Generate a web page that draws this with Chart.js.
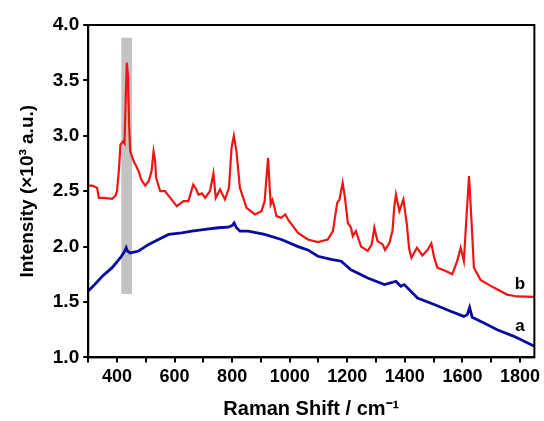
<!DOCTYPE html>
<html>
<head>
<meta charset="UTF-8" />
<title>Raman</title>
<script src="https://cdn.jsdelivr.net/npm/chart.js"></script>
<style>
  html, body { margin: 0; padding: 0; background: #fff; }
  #wrap { width: 544px; height: 421px; }
</style>
</head>
<body>
<div id="wrap"><canvas id="myCanvas" width="544" height="421"></canvas></div>
<script>
// spectrum b (red)
let shiftB = [300, 315, 331, 337, 355, 383, 395, 400, 407, 412, 421, 426, 430, 434, 438, 442, 446, 458, 466, 475, 485, 498, 510, 520, 527, 532, 536, 550, 567, 585, 608, 631, 648, 665, 675, 683, 695, 706, 723, 735, 743, 758, 775, 789, 798, 806, 815, 827, 850, 879, 902, 913, 920, 925, 930, 934, 940, 946, 954, 970, 985, 994, 1010, 1029, 1063, 1098, 1132, 1150, 1165, 1173, 1184, 1192, 1202, 1213, 1219, 1230, 1248, 1271, 1285, 1294, 1305, 1323, 1331, 1346, 1357, 1363, 1369, 1381, 1395, 1407, 1415, 1423, 1442, 1461, 1479, 1492, 1502, 1513, 1542, 1565, 1582, 1594, 1605, 1614, 1623, 1631, 1640, 1663, 1709, 1755, 1790, 1850];
let intensB = [2.55, 2.55, 2.53, 2.44, 2.44, 2.43, 2.46, 2.50, 2.70, 2.92, 2.95, 2.93, 3.30, 3.66, 3.55, 3.10, 2.86, 2.77, 2.73, 2.68, 2.60, 2.55, 2.59, 2.68, 2.86, 2.78, 2.62, 2.50, 2.50, 2.44, 2.365, 2.41, 2.41, 2.56, 2.52, 2.47, 2.48, 2.44, 2.50, 2.66, 2.44, 2.515, 2.425, 2.53, 2.89, 3.00, 2.86, 2.53, 2.35, 2.29, 2.32, 2.41, 2.65, 2.80, 2.55, 2.38, 2.42, 2.365, 2.275, 2.26, 2.29, 2.245, 2.19, 2.124, 2.064, 2.04, 2.064, 2.14, 2.395, 2.425, 2.575, 2.44, 2.214, 2.17, 2.095, 2.14, 2.00, 1.96, 2.02, 2.17, 2.05, 2.02, 1.97, 2.03, 2.14, 2.35, 2.47, 2.32, 2.425, 2.20, 1.98, 1.90, 1.99, 1.92, 1.97, 2.03, 1.90, 1.81, 1.78, 1.75, 1.87, 1.99, 1.87, 2.26, 2.636, 2.26, 1.81, 1.70, 1.63, 1.567, 1.55, 1.546];

// spectrum a (blue)
let shiftA = [300, 320, 348, 383, 412, 425, 432, 436, 446, 475, 510, 544, 579, 625, 660, 706, 752, 786, 800, 807, 815, 827, 856, 913, 971, 1029, 1063, 1098, 1144, 1179, 1213, 1271, 1329, 1369, 1386, 1398, 1444, 1502, 1559, 1605, 1617, 1625, 1634, 1675, 1721, 1779, 1850];
let intensA = [1.60, 1.65, 1.73, 1.81, 1.90, 1.95, 1.99, 1.96, 1.943, 1.96, 2.02, 2.064, 2.11, 2.124, 2.14, 2.155, 2.17, 2.175, 2.19, 2.214, 2.17, 2.14, 2.14, 2.11, 2.064, 2.00, 1.97, 1.913, 1.884, 1.868, 1.79, 1.717, 1.657, 1.687, 1.642, 1.657, 1.536, 1.477, 1.416, 1.37, 1.386, 1.45, 1.362, 1.31, 1.25, 1.19, 1.10];

let xTicks = [400, 600, 800, 1000, 1200, 1400, 1600, 1800];
let yTicks = [1.0, 1.5, 2.0, 2.5, 3.0, 3.5, 4.0];

// highlighted band
let bandX = [415, 452];
let bandY = [1.573, 3.885];

// curve labels
let curveLabels = [
  { text: "a", x: 1800, y: 1.28 },
  { text: "b", x: 1800, y: 1.66 },
];

function pares(xs, ys) {
  let out = [];
  for (let i = 0; i < xs.length; i++) out.push({ x: xs[i], y: ys[i] });
  return out;
}

const fonte = "'Liberation Sans', Arial, sans-serif";

const extras = {
  id: "extras",
  beforeDatasetsDraw(chart) {
    const ctx = chart.ctx;
    const sx = chart.scales.x, sy = chart.scales.y;
    const x0 = sx.getPixelForValue(bandX[0]), x1 = sx.getPixelForValue(bandX[1]);
    const y0 = sy.getPixelForValue(bandY[1]), y1 = sy.getPixelForValue(bandY[0]);
    ctx.save();
    ctx.fillStyle = "#c3c3c3";
    ctx.fillRect(x0, y0, x1 - x0, y1 - y0);
    ctx.restore();
  },
  afterDraw(chart) {
    const ctx = chart.ctx;
    const a = chart.chartArea;
    const sx = chart.scales.x, sy = chart.scales.y;
    ctx.save();
    ctx.strokeStyle = "#000";
    ctx.lineWidth = 2;
    ctx.strokeRect(a.left, a.top, a.right - a.left, a.bottom - a.top);
    ctx.fillStyle = "#000";
    ctx.font = "bold 17px " + fonte;
    ctx.textAlign = "center";
    ctx.textBaseline = "middle";
    curveLabels.forEach(function (l) {
      ctx.fillText(l.text, sx.getPixelForValue(l.x), sy.getPixelForValue(l.y));
    });
    ctx.restore();
  },
};

const config = {
  type: "line",
  data: {
    datasets: [
      {
        label: "b",
        data: pares(shiftB, intensB),
        borderColor: "#f01414",
        borderWidth: 2.2,
        pointRadius: 0,
        tension: 0,
        fill: false,
      },
      {
        label: "a",
        data: pares(shiftA, intensA),
        borderColor: "#0a0a9e",
        borderWidth: 2.8,
        pointRadius: 0,
        tension: 0,
        fill: false,
      },
    ],
  },
  options: {
    responsive: false,
    animation: false,
    layout: { padding: { top: 25, right: 0, left: 16, bottom: 0 } },
    plugins: {
      legend: { display: false },
      tooltip: { enabled: false },
    },
    scales: {
      x: {
        type: "linear",
        min: 300,
        max: 1850,
        afterBuildTicks(scale) {
          let t = [];
          for (let v = 300; v <= 1800; v += 100) t.push({ value: v });
          scale.ticks = t;
        },
        ticks: {
          color: "#000",
          font: { family: fonte, size: 18, weight: "bold" },
          maxRotation: 0,
          autoSkip: false,
          padding: 4,
          callback: function (v) {
            return xTicks.includes(v) ? String(v) : "";
          },
        },
        grid: {
          drawOnChartArea: false,
          color: "#000",
          lineWidth: 2,
          tickLength: 5,
        },
        border: { color: "#000", width: 2 },
        title: {
          display: true,
          text: "Raman Shift / cm\u207B\u00B9",
          color: "#000",
          font: { family: fonte, size: 20, weight: "bold" },
          padding: { top: 5, bottom: 0 },
        },
      },
      y: {
        min: 1,
        max: 4,
        afterBuildTicks(scale) {
          scale.ticks = yTicks.map(function (v) { return { value: v }; });
        },
        ticks: {
          color: "#000",
          font: { family: fonte, size: 19, weight: "bold" },
          padding: 4,
          callback: function (v) { return v.toFixed(1); },
        },
        grid: {
          drawOnChartArea: false,
          color: "#000",
          lineWidth: 2,
          tickLength: 5,
        },
        border: { color: "#000", width: 2 },
        title: {
          display: true,
          text: "Intensity (\u00D710\u00B3 a.u.)",
          color: "#000",
          font: { family: fonte, size: 19, weight: "bold" },
          padding: { top: 0, bottom: 10 },
        },
      },
    },
  },
  plugins: [extras],
};

let myChart = new Chart(document.getElementById("myCanvas"), config);
</script>
</body>
</html>
